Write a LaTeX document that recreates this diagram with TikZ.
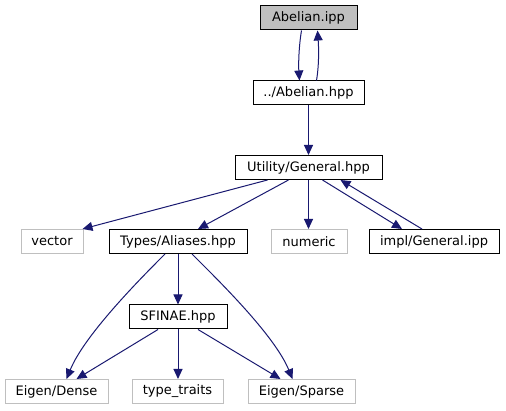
\documentclass[tikz,border=0pt]{standalone}
\usepackage{fontspec}
\setmainfont{DejaVu Sans}
\usetikzlibrary{arrows.meta}
\definecolor{edgec}{HTML}{191970}
\definecolor{greyb}{HTML}{BFBFBF}
\begin{document}
\begin{tikzpicture}[x=1pt,y=-1pt,
  box/.style={draw=black, line width=1pt, fill=white, inner sep=0pt, minimum height=24pt,
    font=\fontsize{13}{15}\selectfont},
  ext/.style={box, draw=greyb},
  cur/.style={box, fill=greyb},
  edge/.style={draw=edgec, line width=1pt, -{Triangle[length=10pt,width=9pt]}}]
\useasboundingbox (0,0) rectangle (506,411);
% nodes
\node[cur, minimum width=97pt]  (A)  at (308.5,18)   {Abelian.ipp};
\node[box, minimum width=111pt] (B)  at (308.5,93)   {../Abelian.hpp};
\node[box, minimum width=147pt] (U)  at (308.5,167.5){Utility/General.hpp};
\node[ext, minimum width=62pt]  (V)  at (52,241.5)   {vector};
\node[box, minimum width=138pt] (T)  at (178,241.5)  {Types/Aliases.hpp};
\node[ext, minimum width=76pt]  (N)  at (309,241.5)  {numeric};
\node[box, minimum width=130pt] (I)  at (434,241.5)  {impl/General.ipp};
\node[box, minimum width=98pt]  (S)  at (178,317)    {SFINAE.hpp};
\node[ext, minimum width=103pt] (D)  at (56.5,391.5) {Eigen/Dense};
\node[ext, minimum width=91pt]  (TT) at (177.5,391.5){type\_traits};
\node[ext, minimum width=107pt] (P)  at (301.5,391.5){Eigen/Sparse};
% edges
\draw[edge] ([xshift=-7pt]A.south) .. controls +(-3,18) and +(-1,-14) .. ([xshift=-9pt]B.north);
\draw[edge] ([xshift=8pt]B.north) .. controls +(3,-18) and +(1,14) .. ([xshift=9pt]A.south);
\draw[edge] (B.south) -- (U.north);
\draw[edge] ([xshift=-41pt]U.south) -- ([xshift=-1pt]V.north east);
\draw[edge] ([xshift=-20pt]U.south) -- ([xshift=20pt]T.north);
\draw[edge] (U.south) -- (U.south |- N.north);
\draw[edge] ([xshift=14pt]U.south) -- ([xshift=-32pt]I.north);
\draw[edge] ([xshift=-12pt]I.north) -- ([xshift=32pt]U.south);
\draw[edge] ([xshift=-13pt]T.south) .. controls +(-25,25) and +(18,-44) .. ([xshift=10pt]D.north);
\draw[edge] (T.south) -- (S.north);
\draw[edge] ([xshift=14pt]T.south) .. controls +(25,25) and +(-18,-44) .. ([xshift=-9pt]P.north);
\draw[edge] ([xshift=-20pt]S.south) -- ([xshift=20pt]D.north);
\draw[edge] (S.south) -- (S.south |- TT.north);
\draw[edge] ([xshift=20pt]S.south) -- ([xshift=-21pt]P.north);
\end{tikzpicture}
\end{document}
